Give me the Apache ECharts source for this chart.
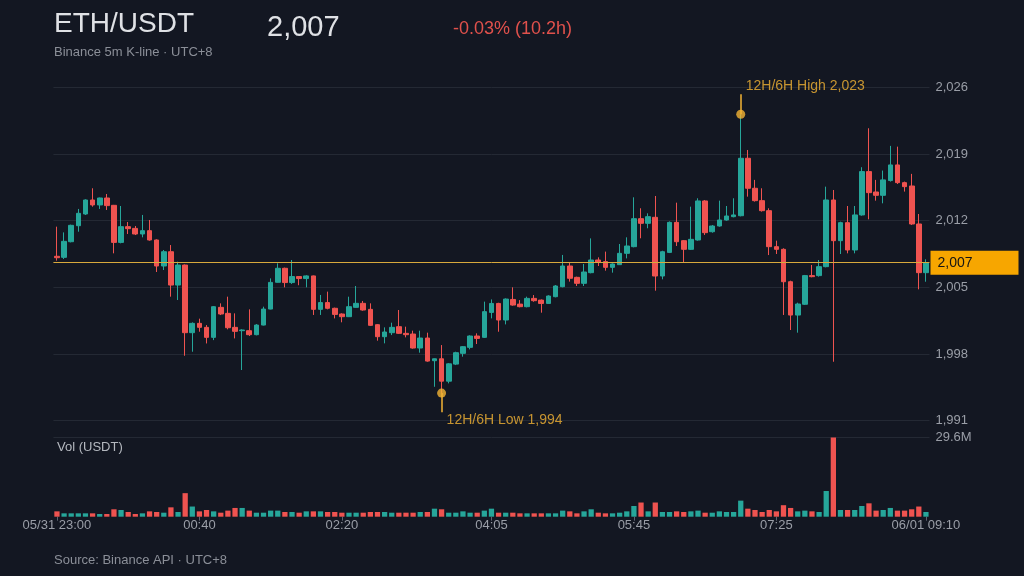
<!DOCTYPE html>
<html>
<head>
<meta charset="utf-8">
<title>ETH/USDT</title>
<script src="https://cdn.jsdelivr.net/npm/echarts@6/dist/echarts.min.js"></script>
<style>
  html, body { margin: 0; padding: 0; background: #131722; }
  #main { width: 1024px; height: 576px; }
</style>
</head>
<body>
<div id="main"></div>
<script>
// 5m candles, 05/31 23:00 -> 06/01 09:10 (UTC+8)
var opens = [2008.26,2008.15,2009.79,2011.47,2012.70,2014.17,2013.65,2014.38,2013.61,2009.72,
  2011.37,2011.19,2010.60,2010.95,2009.97,2007.24,2008.74,2005.24,2007.34,2000.24,
  2001.22,2000.80,1999.75,2002.90,2002.27,2000.80,2000.45,2000.45,2000.03,2001.04,
  2002.72,2005.53,2007.00,2005.50,2006.13,2005.92,2006.20,2002.69,2003.40,2002.80,
  2002.20,2001.92,2002.90,2003.32,2002.69,2001.08,1999.82,2000.24,2000.87,2000.17,
  2000.10,1998.63,1999.68,1997.30,1997.50,1995.15,1996.94,1998.07,1998.70,1999.89,
  1999.75,2002.37,2003.31,2001.57,2003.73,2003.24,2002.97,2003.84,2003.66,2003.31,
  2004.02,2005.07,2007.24,2006.05,2005.42,2006.54,2007.87,2007.70,2007.10,2007.38,
  2008.57,2009.27,2012.21,2011.72,2012.35,2006.19,2008.67,2011.82,2009.90,2008.99,
  2009.97,2014.07,2010.84,2011.44,2012.07,2012.42,2012.52,2018.55,2015.40,2014.10,
  2013.05,2009.27,2008.99,2005.59,2002.09,2003.22,2006.23,2006.23,2007.17,2014.17,
  2009.90,2011.79,2008.92,2012.60,2017.15,2015.01,2014.66,2016.21,2017.85,2015.99,
  2015.64,2011.65,2006.54];
var highs = [2011.37,2010.77,2011.58,2013.23,2014.24,2015.40,2014.42,2014.80,2013.65,2013.54,
  2011.86,2011.44,2012.60,2012.07,2010.04,2008.92,2009.44,2007.69,2007.40,2001.32,
  2001.71,2001.04,2003.04,2003.32,2004.02,2002.27,2000.60,2002.69,2001.14,2002.97,
  2005.94,2007.52,2007.07,2007.87,2006.16,2006.27,2006.24,2004.20,2004.55,2002.87,
  2002.27,2004.02,2005.14,2003.57,2003.32,2001.15,2000.80,2001.29,2002.62,2000.87,
  2000.45,2000.45,2000.24,1997.53,1998.94,1997.04,1998.24,1998.84,1999.96,2000.17,
  2003.50,2003.73,2003.38,2003.84,2005.00,2003.66,2004.02,2004.19,2003.73,2004.16,
  2005.24,2008.40,2007.59,2006.12,2007.45,2010.14,2008.15,2008.75,2007.52,2009.55,
  2010.25,2014.45,2013.30,2012.77,2014.59,2008.84,2011.92,2013.89,2009.97,2013.47,
  2014.35,2014.17,2011.54,2014.10,2013.54,2014.35,2023.17,2019.42,2016.28,2015.40,
  2013.30,2009.90,2009.10,2005.70,2003.39,2006.30,2007.35,2007.87,2015.57,2015.22,
  2011.89,2013.54,2013.54,2017.61,2021.70,2016.28,2017.26,2019.85,2019.77,2016.10,
  2016.91,2012.70,2007.94];
var lows = [2007.80,2007.97,2009.72,2010.84,2012.60,2013.47,2013.23,2013.12,2008.57,2009.62,
  2010.60,2010.49,2010.25,2009.90,2006.61,2006.82,2004.02,2003.67,1997.82,1998.24,
  2000.34,1999.11,1999.46,2002.09,2000.59,1999.64,1996.32,1999.89,1999.96,2001.00,
  2002.69,2005.50,2005.00,2005.36,2005.22,2005.00,2002.10,2002.10,2002.69,2001.74,
  2001.33,2001.88,2002.87,2002.55,2000.94,1999.40,1999.12,1999.99,2000.10,1999.75,
  1998.56,1998.14,1997.19,1994.56,1993.90,1994.92,1996.84,1997.72,1998.49,1999.05,
  1999.68,2001.74,2000.34,2001.11,2003.07,2002.90,2002.90,2003.49,2002.34,2003.28,
  2003.95,2005.00,2005.60,2005.14,2005.14,2006.47,2007.24,2006.75,2006.54,2007.35,
  2008.04,2009.20,2010.15,2011.20,2004.65,2005.84,2008.60,2009.34,2007.59,2008.92,
  2009.90,2010.50,2010.74,2011.37,2012.00,2012.35,2012.45,2014.52,2014.00,2012.95,
  2008.39,2008.50,2002.10,2000.52,2000.24,2003.15,2006.05,2006.12,2007.10,1997.19,
  2008.50,2008.57,2008.57,2012.52,2012.14,2014.10,2013.82,2016.10,2015.85,2015.05,
  2011.55,2004.79,2005.59];
var closes = [2008.11,2009.83,2011.51,2012.77,2014.17,2013.65,2014.38,2013.58,2009.72,2011.37,
  2011.16,2010.60,2010.95,2009.97,2007.24,2008.74,2005.24,2007.34,2000.24,2001.22,
  2000.80,1999.75,2002.97,2002.20,2000.76,2000.38,2000.52,2000.03,2001.04,2002.72,
  2005.52,2007.00,2005.50,2006.13,2005.92,2006.20,2002.69,2003.40,2002.80,2002.16,
  2001.92,2002.97,2003.32,2002.62,2001.01,1999.82,2000.31,2000.80,2000.17,2000.03,
  1998.63,1999.68,1997.26,1997.50,1995.15,1996.97,1998.14,1998.77,1999.89,1999.64,
  2002.45,2003.31,2001.57,2003.77,2003.14,2002.97,2003.84,2003.60,2003.31,2004.09,
  2005.14,2007.24,2005.95,2005.42,2006.61,2007.87,2007.63,2007.10,2007.45,2008.57,
  2009.34,2012.21,2011.72,2012.42,2006.19,2008.74,2011.82,2009.79,2008.99,2010.04,
  2014.07,2010.74,2011.44,2012.07,2012.49,2012.60,2018.55,2015.40,2014.10,2013.05,
  2009.27,2008.99,2005.59,2002.09,2003.25,2006.23,2006.12,2007.17,2014.17,2009.90,
  2011.79,2008.92,2012.60,2017.15,2014.94,2014.66,2016.28,2017.85,2015.99,2015.57,
  2011.65,2006.54,2007.59];
// volume, million USDT
var volumes = [2.0,1.26,1.26,1.26,1.26,1.26,1.0,1.0,2.77,2.5,
  1.76,1.0,1.26,2.0,1.76,1.5,3.5,1.76,8.8,3.8,
  2.0,2.5,2.0,1.5,2.27,3.27,3.27,2.27,1.5,1.5,
  2.27,2.27,1.76,1.76,1.5,2.0,2.0,2.0,1.76,1.76,
  1.5,1.5,1.5,1.5,1.76,1.76,1.76,1.5,1.5,1.5,
  1.5,1.76,1.76,3.0,2.77,1.5,1.5,2.0,1.5,1.5,
  2.27,3.0,1.5,1.5,1.5,1.26,1.26,1.26,1.26,1.26,
  1.26,2.27,2.0,1.26,2.0,2.77,1.5,1.26,1.26,1.5,
  2.0,4.0,5.3,2.0,5.3,1.76,1.76,2.0,1.76,2.0,
  2.27,1.5,1.5,2.0,1.76,1.76,6.0,3.0,2.5,1.76,
  2.5,2.0,4.3,3.27,2.0,2.27,2.0,1.76,9.6,29.6,
  2.5,2.5,2.5,4.0,5.0,2.27,2.5,3.27,2.27,2.27,
  2.77,3.8,1.76];
var tickIdx = [0, 20, 40, 61, 81, 101, 122];
var tickLabels = ['05/31 23:00', '00:40', '02:20', '04:05', '05:45', '07:25', '06/01 09:10'];
var priceTicks = [1991, 2026, 7];
var volMax = 29.6;

var UP = '#26a69a', DOWN = '#ef5350', GOLD = '#f4b434';
var FONT = '"Liberation Sans", Arial, sans-serif';

var times = [];
for (var i = 0; i < opens.length; i++) {
  var m = (23 * 60 + i * 5) % 1440;
  times.push(('0' + Math.floor(m / 60)).slice(-2) + ':' + ('0' + m % 60).slice(-2));
}
var kData = opens.map(function (o, i) { return [o, closes[i], lows[i], highs[i]]; });
var volData = volumes.map(function (v, i) {
  return { value: v, itemStyle: { color: closes[i] >= opens[i] ? UP : DOWN } };
});

var hiIdx = 0, loIdx = 0;
for (var j = 1; j < highs.length; j++) {
  if (highs[j] > highs[hiIdx]) hiIdx = j;
  if (lows[j] < lows[loIdx]) loIdx = j;
}
var hi = highs[hiIdx], lo = lows[loIdx];
var last = closes[closes.length - 1];
function fmt(v) { return Math.round(v).toLocaleString('en-US'); }
function fmtFloor(v) { return Math.floor(v).toLocaleString('en-US'); }
function isTick(idx) { return tickIdx.indexOf(idx) >= 0; }

var myChart = echarts.init(document.getElementById('main'));
var option = {
  backgroundColor: '#131722',
  animation: false,
  textStyle: { fontFamily: FONT },
  graphic: [
    { type: 'text', left: 54, top: 10, style: { text: 'ETH/USDT', fill: '#dfe1e5', font: '28px ' + FONT } },
    { type: 'text', left: 267, top: 13, style: { text: fmtFloor(last), fill: '#dfe1e5', font: '29px ' + FONT } },
    { type: 'text', left: 453, top: 20, style: { text: '-0.03% (10.2h)', fill: '#e0514c', font: '18px ' + FONT } },
    { type: 'text', left: 54, top: 46, style: { text: 'Binance 5m K-line · UTC+8', fill: '#8b8f98', font: '13px ' + FONT } },
    { type: 'text', left: 57, top: 441, style: { text: 'Vol (USDT)', fill: '#b4b8bf', font: '13px ' + FONT } },
    { type: 'text', left: 54, top: 554, style: { text: 'Source: Binance API · UTC+8', fill: '#8b8f98', font: '13px ' + FONT } }
  ],
  grid: [
    { left: 53.4, right: 94.5, top: 87.3, height: 333.4 },
    { left: 53.4, right: 94.5, top: 437.5, height: 79.2 }
  ],
  xAxis: [
    {
      type: 'category', gridIndex: 0, data: times,
      axisLine: { show: false }, axisTick: { show: false }, axisLabel: { show: false }, splitLine: { show: false }
    },
    {
      type: 'category', gridIndex: 1, data: times,
      axisLine: { show: false },
      axisTick: { show: true, alignWithLabel: true, length: 4, interval: function (idx) { return isTick(idx); }, lineStyle: { color: '#5d6270' } },
      axisLabel: {
        interval: function (idx) { return isTick(idx); },
        formatter: function (v, idx) { return tickLabels[tickIdx.indexOf(idx)]; },
        color: '#9a9ea7', fontSize: 13, margin: 2
      },
      splitLine: { show: false }
    }
  ],
  yAxis: [
    {
      type: 'value', gridIndex: 0, position: 'right', scale: true,
      min: priceTicks[0], max: priceTicks[1], interval: priceTicks[2],
      axisLine: { show: false }, axisTick: { show: false },
      axisLabel: { color: '#9a9ea7', fontSize: 13, margin: 6, formatter: function (v) { return fmt(v); } },
      splitLine: { lineStyle: { color: '#242934', width: 1 } }
    },
    {
      type: 'value', gridIndex: 1, position: 'right',
      min: 0, max: volMax, interval: volMax,
      axisLine: { show: false }, axisTick: { show: false },
      axisLabel: { color: '#9a9ea7', fontSize: 13, margin: 6, formatter: function (v) { return v > 0 ? v.toFixed(1) + 'M' : ''; } },
      splitLine: { lineStyle: { color: ['rgba(0,0,0,0)', '#242934'], width: 1 } }
    }
  ],
  series: [
    {
      name: 'ETH/USDT', type: 'candlestick', xAxisIndex: 0, yAxisIndex: 0,
      data: kData, barWidth: '72%',
      itemStyle: { color: UP, color0: DOWN, borderColor: UP, borderColor0: DOWN, borderWidth: 1 },
      markLine: {
        silent: true, symbol: 'none',
        lineStyle: { color: '#d8a93c', width: 1, type: 'solid' },
        label: {
          position: 'end', distance: 1,
          formatter: function () { return fmtFloor(last); },
          backgroundColor: '#f7a600', color: '#141414', fontSize: 14,
          padding: [5, 6, 5, 7], width: 75, height: 14, align: 'left'
        },
        data: [{ yAxis: last }]
      }
    },
    {
      name: 'extremes', type: 'scatter', xAxisIndex: 0, yAxisIndex: 0,
      symbolSize: 9, itemStyle: { color: GOLD }, z: 5,
      data: [[hiIdx, hi], [loIdx, lo]],
      markLine: {
        silent: true, symbol: 'none',
        lineStyle: { color: GOLD, width: 1.5, type: 'solid' },
        label: { show: false },
        data: [
          [{ coord: [hiIdx, hi] }, { coord: [hiIdx, hi + 2.1] }],
          [{ coord: [loIdx, lo] }, { coord: [loIdx, lo - 2.0] }]
        ]
      }
    },
    {
      name: 'extremeLabels', type: 'scatter', xAxisIndex: 0, yAxisIndex: 0,
      symbolSize: 0, silent: true,
      data: [
        { value: [hiIdx, hi + 2.1], label: { show: true, position: 'right', distance: 5, offset: [0, -8], formatter: '12H/6H High ' + fmt(hi) } },
        { value: [loIdx, lo - 2.0], label: { show: true, position: 'right', distance: 5, offset: [0, 8], formatter: '12H/6H Low ' + fmt(lo) } }
      ],
      label: { color: GOLD, fontSize: 14 }
    },
    {
      name: 'Vol', type: 'bar', xAxisIndex: 1, yAxisIndex: 1,
      data: volData, barWidth: '74%'
    }
  ]
};
myChart.setOption(option);
window.addEventListener('resize', function () { myChart.resize(); });
</script>
</body>
</html>
